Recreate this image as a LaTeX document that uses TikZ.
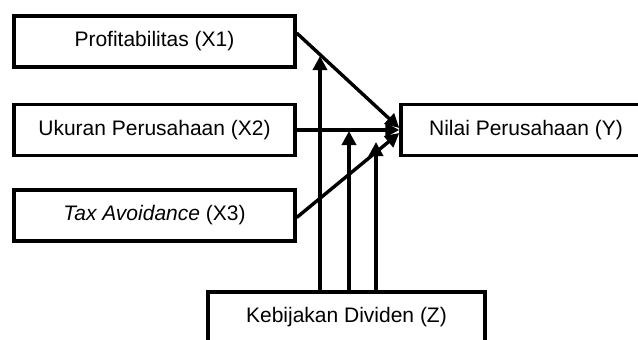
\documentclass[tikz,border=0pt]{standalone}
\usepackage{fontspec}
\setmainfont{Liberation Sans}
\usetikzlibrary{arrows.meta,calc}
\begin{document}
\begin{tikzpicture}[x=1pt,y=-1pt,
  varbox/.style={draw=black,line width=3.4pt,rectangle,inner sep=0pt,
    minimum height=51pt,font=\fontsize{21}{24}\selectfont},
  link/.style={line width=3.4pt,-{Triangle[length=14pt,width=14pt]}}]
  \useasboundingbox (0,0) rectangle (638,340);
  \clip (0,0) rectangle (638,340);

  % variables
  \node[varbox,minimum width=281pt] (x1) at (154.5,41.5) {Profitabilitas (X1)};
  \node[varbox,minimum width=281pt] (x2) at (154.5,130) {Ukuran Perusahaan (X2)};
  \node[varbox,minimum width=281pt] (x3) at (154.5,215.5) {\textit{Tax Avoidance} (X3)};
  \node[varbox,minimum width=250pt] (y)  at (526,130) {Nilai Perusahaan (Y)};
  \node[varbox,minimum width=277pt,minimum height=50pt] (z) at (346.5,317) {Kebijakan Dividen (Z)};

  % direct effects on Y
  \draw[link] ([yshift=8.5pt]x1.east) -- ([yshift=2pt]y.west);
  \draw[link] (x2.east) -- (y.west);
  \draw[link] ([yshift=-2pt]x3.east) -- ([yshift=-3pt]y.west);

  % moderating effects of Z
  \coordinate (m1) at (320,56);
  \coordinate (m2) at (349,131);
  \coordinate (m3) at (376,142);
  \draw[link] (m1 |- z.north) -- (m1);
  \draw[link] ([yshift=-4pt]m2 |- z.north) -- (m2);
  \draw[link] (m3 |- z.north) -- (m3);
\end{tikzpicture}
\end{document}
